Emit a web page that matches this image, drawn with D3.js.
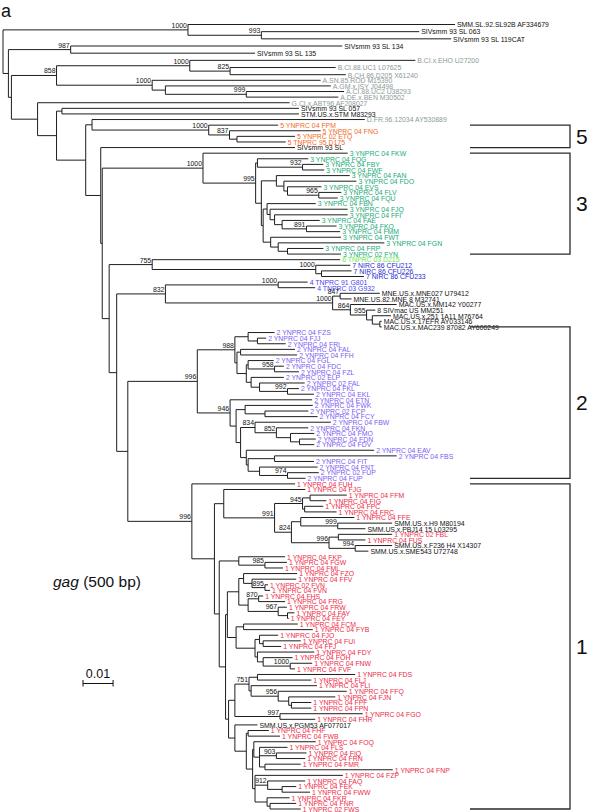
<!DOCTYPE html>
<html><head><meta charset="utf-8">
<script src="https://cdn.jsdelivr.net/npm/d3@7"></script>
<style>
body{margin:0;background:#fff}
svg{display:block}
text{font-family:"Liberation Sans",Arial,Helvetica,sans-serif}
</style></head>
<body><svg id="chart" width="589" height="812"></svg>
<script>
// ---------- DATA ----------
// [node id / leaf label, parent id, divergence from root (subst./site), bootstrap]
const treeRows = [
["root",null,0,null],
["n_smm","root",0.0615,1000],
["SMM.SL.92.SL92B AF334679","n_smm",0.1503],
["n993","n_smm",0.0859,993],
["SIVsmm 93 SL 063","n993",0.1384],
["SIVsmm 93 SL 119CAT","n993",0.1490],
["nB","root",0.0018],
["n987","nB",0.0225,987],
["SIVsmm 93 SL 134","n987",0.1128],
["SIVsmm 93 SL 135","n987",0.0838],
["nC","nB",0.0028],
["n858","nC",0.0178,858],
["n1000b","n858",0.0621,1000],
["B.CI.x.EHO U27200","n1000b",0.1371],
["n825","n1000b",0.0755,825],
["B.CI.88.UC1 L07625","n825",0.1106],
["B.CH.86.D205 X61240","n825",0.1140],
["n1000a","n858",0.0496,1000],
["A.SN.85.ROD M15390","n1000a",0.1056],
["n_a2","n1000a",0.0540],
["A.GM.x.ISY J04498","n_a2",0.1090],
["n999a","n_a2",0.0809,999],
["A.CI.88.UC2 U38293","n999a",0.1134],
["A.DE.x.BEN M30502","n999a",0.1115],
["nD","nC",0.0115],
["G.CI.x.ABT96 AF208027","nD",0.0953],
["nE","nD",0.0178],
["n_stm","nE",0.0196],
["SIVsmm 93 SL 057","n_stm",0.0984],
["STM.US.x.STM M83293","n_stm",0.0984],
["nF","nE",0.0275],
["n_dfr","nF",0.0296],
["D.FR.96.12034 AY530889","n_dfr",0.1203],
["n1000_5","n_dfr",0.0684,1000],
["5 YNPRC 04 FPM","n1000_5",0.0915],
["n837","n1000_5",0.0753,837],
["5 YNPRC 04 FNG","n837",0.1056],
["n5c","n837",0.0778],
["5 YNPRC 02 ETQ","n5c",0.0971],
["5 TNPRC 95 D175","n5c",0.0940],
["nP1","nF",0.0325],
["SIVsmm 93 SL","nP1",0.0971],
["nP2","nP1",0.0330],
["n1000_3","nP2",0.0665,1000],
["3 YNPRC 04 FKW","n1000_3",0.1146],
["n995","n1000_3",0.0840,995],
["n3a","n995",0.0846],
["3 YNPRC 04 FQG","n3a",0.1015],
["n932","n3a",0.0996,932],
["3 YNPRC 04 FBY","n932",0.1065],
["3 YNPRC 04 FWF","n932",0.1068],
["n3r","n995",0.0859],
["n3e","n3r",0.0909],
["3 YNPRC 04 FAN","n3e",0.1153],
["n3d","n3e",0.0934],
["3 YNPRC 04 FDO","n3d",0.1175],
["n3c","n3d",0.0946],
["3 YNPRC 04 EVS","n3c",0.1059],
["n965","n3c",0.1050,965],
["3 YNPRC 04 FLV","n965",0.1125],
["3 YNPRC 04 FQU","n965",0.1113],
["n3q","n3r",0.0865],
["n3g","n3q",0.0878],
["3 YNPRC 04 FBN","n3g",0.1040],
["n3h","n3g",0.0888],
["3 YNPRC 04 FJQ","n3h",0.1146],
["n3i","n3h",0.0903],
["3 YNPRC 04 FFI","n3i",0.1146],
["n3j","n3i",0.0928],
["3 YNPRC 04 FAE","n3j",0.1053],
["n891","n3j",0.1009,891],
["3 YNPRC 04 FKO","n891",0.1109],
["3 YNPRC 04 FMM","n891",0.1121],
["n3k","n3q",0.0890],
["3 YNPRC 04 FWT","n3k",0.1124],
["n3l","n3k",0.0915],
["3 YNPRC 04 FGN","n3l",0.1268],
["n3m","n3l",0.0946],
["3 YNPRC 04 FRP","n3m",0.1065],
["3 YNPRC 02 FYN","n3m",0.1124],
["nQ","nP2",0.0353],
["n755","nQ",0.0496,755],
["6 TNPRC 03 D215","n755",0.1121],
["n1000_7","n755",0.1040,1000],
["7 NIRC 86 CFU212","n1000_7",0.1155],
["n7b","n1000_7",0.1059],
["7 NIRC 86 CFU226","n7b",0.1159],
["7 NIRC 86 CFU233","n7b",0.1200],
["nX","nQ",0.0378],
["n832","nX",0.0540,832],
["n1000_4","n832",0.0915,1000],
["4 TNPRC 91 G801","n1000_4",0.1013],
["4 TNPRC 03 G932","n1000_4",0.1038],
["n1000_mac","n832",0.1096,1000],
["n847","n1000_mac",0.1121,847],
["MNE.US.x.MNE027 U79412","n847",0.1253],
["MNE.US.82.MNE 8 M32741","n847",0.1159],
["n864","n1000_mac",0.1155,864],
["MAC.US.x.MM142 Y00277","n864",0.1309],
["n955","n864",0.1209,955],
["8 SIVmac US MM251","n955",0.1238],
["nmac2","n955",0.1228],
["MAC.US.x.251 1A11 M76764","nmac2",0.1290],
["nmac3","nmac2",0.1253],
["MAC.US.x.17EFR AY033146","nmac3",0.1259],
["MAC.US.x.MAC239 87082 AY600249","nmac3",0.1259],
["nG21","nX",0.0415],
["n996_2","nG21",0.0646,996],
["n988","n996_2",0.0771,988],
["n2a","n988",0.0815],
["2 YNPRC 04 FZS","n2a",0.0903],
["n2b","n2a",0.0846],
["2 YNPRC 04 FJJ","n2b",0.0875],
["2 YNPRC 04 FRI","n2b",0.0940],
["n2c","n988",0.0778],
["n2e","n2c",0.0790],
["2 YNPRC 04 FAL","n2e",0.0971],
["2 YNPRC 04 FFH","n2e",0.0978],
["n2f","n2c",0.0809],
["n2g","n2f",0.0815],
["2 YNPRC 04 FGL","n2g",0.0900],
["n958","n2g",0.0903,958],
["2 YNPRC 04 FDC","n958",0.0934],
["2 YNPRC 04 FZL","n958",0.0984],
["n2h","n2f",0.0825],
["2 YNPRC 02 ELP","n2h",0.0934],
["n2i","n2h",0.0853],
["2 YNPRC 02 FAL","n2i",0.1003],
["n992","n2i",0.0946,992],
["2 YNPRC 04 FKL","n992",0.0984],
["2 YNPRC 04 EKL","n992",0.1034],
["n946","n996_2",0.0755,946],
["2 YNPRC 04 ETN","n946",0.1028],
["n2l","n946",0.0775],
["n2m","n2l",0.0805],
["2 YNPRC 04 FWK","n2m",0.1030],
["n2p","n2m",0.0871],
["2 YNPRC 02 FCP","n2p",0.1015],
["2 YNPRC 04 FCY","n2p",0.1046],
["n2n","n2l",0.0790],
["n834","n2n",0.0838,834],
["2 YNPRC 04 FBW","n834",0.1090],
["n852","n834",0.0909,852],
["2 YNPRC 04 FKN","n852",0.1015],
["n2j","n852",0.0956],
["2 YNPRC 04 FMO","n2j",0.1035],
["n2k","n2j",0.0986],
["2 YNPRC 04 FDN","n2k",0.1040],
["2 YNPRC 04 FDV","n2k",0.1035],
["n2r","n2n",0.0809],
["2 YNPRC 04 EAV","n2r",0.1234],
["n2s","n2r",0.0815],
["n2t","n2s",0.0903],
["2 YNPRC 04 FBS","n2t",0.1309],
["2 YNPRC 04 FIT","n2t",0.1034],
["n2u","n2s",0.0853],
["2 YNPRC 04 FNT","n2u",0.1046],
["n974","n2u",0.0946,974],
["2 YNPRC 02 FUP","n974",0.1050],
["2 YNPRC 04 FUP","n974",0.1006],
["n996_1","nG21",0.0628,996],
["1 YNPRC 04 FUH","n996_1",0.0971],
["n1a","n996_1",0.0703],
["n1b","n1a",0.0734],
["1 YNPRC 04 FJG","n1b",0.1005],
["n991","n1b",0.0903,991],
["n945","n991",0.0996,945],
["n1f","n945",0.1021],
["1 YNPRC 04 FFM","n1f",0.1143],
["1 YNPRC 04 FIG","n1f",0.1075],
["n1d","n945",0.1003],
["1 YNPRC 04 FPC","n1d",0.1065],
["1 YNPRC 04 FRC","n1d",0.1109],
["n824","n991",0.0959,824],
["n1g","n824",0.0990],
["1 YNPRC 04 FFE","n1g",0.1168],
["n999b","n1g",0.1113,999],
["SMM.US.x.H9 M80194","n999b",0.1294],
["SMM.US.x.PBJ14 15 L03295","n999b",0.1205],
["n996b","n824",0.1084,996],
["n1h","n996b",0.1115],
["1 YNPRC 02 FBL","n1h",0.1294],
["1 YNPRC 04 FUS","n1h",0.1205],
["n994","n996b",0.1171,994],
["SMM.US.x.F236 H4 X14307","n994",0.1294],
["SMM.US.x.SME543 U72748","n994",0.1215],
["n1c","n1a",0.0719],
["n1i","n1c",0.0784],
["1 YNPRC 04 FKP","n1i",0.0938],
["n985","n1i",0.0871,985],
["1 YNPRC 04 FGW","n985",0.0944],
["1 YNPRC 04 FML","n985",0.0931],
["nd1","n1c",0.0740],
["nd2","nd1",0.0746],
["n1k","nd2",0.0784],
["n1l","n1k",0.0800],
["1 YNPRC 04 FZO","n1l",0.0978],
["n1m","n1l",0.0828],
["1 YNPRC 04 FFV","n1m",0.0975],
["n895","n1m",0.0871,895],
["1 YNPRC 02 FVN","n895",0.0881],
["1 YNPRC 04 FVN","n895",0.0888],
["n1o","n1k",0.0815],
["n870","n1o",0.0850,870],
["1 YNPRC 04 FHS","n870",0.0865],
["1 YNPRC 04 FRG","n870",0.0938],
["n967","n1o",0.0915,967],
["1 YNPRC 04 FRW","n967",0.0944],
["n1j","n967",0.0946],
["1 YNPRC 04 FAY","n1j",0.0969],
["1 YNPRC 04 FEY","n1j",0.0950],
["n1q","nd2",0.0775],
["n1x","n1q",0.0800],
["1 YNPRC 04 FCM","n1x",0.0980],
["1 YNPRC 04 FYB","n1x",0.1030],
["n1y","n1q",0.0838],
["na1","n1y",0.0853],
["1 YNPRC 04 FJO","na1",0.0915],
["na2","na1",0.0865],
["1 YNPRC 04 FUI","na2",0.0990],
["1 YNPRC 04 FFJ","na2",0.0925],
["na3","n1y",0.0846],
["1 YNPRC 04 FDY","na3",0.1035],
["na4","na3",0.0865],
["1 YNPRC 04 FOH","na4",0.0963],
["n1000_1","na4",0.0955,1000],
["1 YNPRC 04 FNW","n1000_1",0.1028],
["1 YNPRC 04 FVF","n1000_1",0.0971],
["nd3","nd1",0.0750],
["nd4","nd3",0.0771],
["n751","nd4",0.0818,751],
["nb1","n751",0.0846],
["1 YNPRC 04 FDS","nb1",0.1171],
["1 YNPRC 04 FLJ","nb1",0.1025],
["nb2","n751",0.0825],
["1 YNPRC 04 FLI","nb2",0.1044],
["n956","nb2",0.0915,956],
["1 YNPRC 04 FFQ","n956",0.1143],
["nb3","n956",0.0950],
["1 YNPRC 04 FJN","nb3",0.1105],
["nb4","nb3",0.0959],
["1 YNPRC 04 FPF","nb4",0.1025],
["1 YNPRC 04 FPN","nb4",0.1025],
["n997","nd4",0.0921,997],
["1 YNPRC 04 FGO","n997",0.1196],
["1 YNPRC 04 FHR","n997",0.1038],
["nc1","nd3",0.0771],
["SMM.US.x.PGM53 AF077017","nc1",0.0846],
["nc2","nc1",0.0809],
["nc3","nc2",0.0815],
["1 YNPRC 04 FHF","nc3",0.0884],
["1 YNPRC 04 FWB","nc3",0.0921],
["nc4","nc2",0.0830],
["nc5","nc4",0.0834],
["1 YNPRC 04 FOQ","nc5",0.1040],
["nc6","nc5",0.0853],
["1 YNPRC 04 FLS","nc6",0.0946],
["n903","nc6",0.0909,903],
["1 YNPRC 04 FIQ","n903",0.1009],
["1 YNPRC 04 FRN","n903",0.1005],
["nc7","nc6",0.0871],
["1 YNPRC 04 FMR","nc7",0.0990],
["1 YNPRC 04 FNP","nc7",0.1296],
["nc8","nc4",0.0838],
["1 YNPRC 04 FZP","nc8",0.1130],
["n912","nc8",0.0880,912],
["1 YNPRC 04 FAQ","n912",0.1005],
["n1s","n912",0.0928],
["1 YNPRC 04 FEK","n1s",0.0975],
["1 YNPRC 04 FWW","n1s",0.1021],
["nc9","nc8",0.0878],
["1 YNPRC 04 FKR","nc9",0.0953],
["n1t","nc9",0.0888],
["1 YNPRC 04 FNR","n1t",0.0975],
["1 YNPRC 02 FWS","n1t",0.0990]
];

// group brackets: [label, first leaf, last leaf]
const bracketLabels = ["5","3","2","1"];
const bracketFrom = ["5 YNPRC 04 FPM","3 YNPRC 04 FKW","MAC.US.x.MAC239 87082 AY600249","1 YNPRC 04 FUH"];
const bracketTo   = ["SIVsmm 93 SL","3 YNPRC 02 FYN","2 YNPRC 04 FUP","1 YNPRC 02 FWS"];

// label colour groups
const groupKeys   = ["1","2","3","4","5","6","7","HIV2","other"];
const groupColors = ["#ee2a48","#7d5cf0","#22aa78","#4a44f2","#f26a28","#6ae844","#2a2ad0","#8c9a9a","#111111"];

const scaleBarValue = 0.01;
const scaleBarLabel = "0.01";
const panelLabel = "a";
const geneLabel = ["gag", " (500 bp)"];

// ---------- LAYOUT ----------
const svg = d3.select("#chart");
const root = d3.stratify().id(d => d[0]).parentId(d => d[1])(treeRows);
const leaves = root.leaves();

const x = d3.scaleLinear().domain([0, 0.19]).range([3, 3 + 0.19 * 3007.5]);
const y = d3.scaleLinear().domain([0, 7, leaves.length - 1]).range([24.5, 74.7, 809]);

leaves.forEach((l, i) => { l.ly = y(i); });
root.eachAfter(n => {
  n.px = x(n.data[2]);
  if (n.children) n.py = (n.children[0].py + n.children[n.children.length - 1].py) / 2;
  else n.py = n.ly;
});

function groupOf(name) {
  const m = name.match(/^([1-7]) /);
  if (m) return m[1];
  if (/^[ABDG]\.[A-Z]/.test(name)) return "HIV2";
  return "other";
}
const colorScale = d3.scaleOrdinal().domain(groupKeys).range(groupColors);

const g = svg.append("g");
const lineColor = "#1e1e1e";

// horizontal branches
g.selectAll("line.h").data(root.descendants().filter(d => d.parent))
  .join("line").attr("class","h")
  .attr("x1", d => d.parent.px).attr("x2", d => d.px)
  .attr("y1", d => d.py).attr("y2", d => d.py)
  .attr("stroke", lineColor).attr("stroke-width", 1);

// vertical connectors
g.selectAll("line.v").data(root.descendants().filter(d => d.children))
  .join("line").attr("class","v")
  .attr("x1", d => d.px).attr("x2", d => d.px)
  .attr("y1", d => d.children[0].py).attr("y2", d => d.children[d.children.length-1].py)
  .attr("stroke", lineColor).attr("stroke-width", 1);

// leaf labels
g.selectAll("text.leaf").data(leaves).join("text").attr("class","leaf")
  .attr("x", d => d.px + 2).attr("y", d => d.py + 2.8)
  .attr("font-size", 6.9)
  .attr("fill", d => colorScale(groupOf(d.id)))
  .text(d => d.id);

// bootstrap values
g.selectAll("text.boot").data(root.descendants().filter(d => d.data[3] != null))
  .join("text").attr("class","boot")
  .attr("x", d => d.px - 1).attr("y", d => d.py - 2)
  .attr("text-anchor","end").attr("font-size", 6.9).attr("fill","#111")
  .text(d => d.data[3]);

// brackets
const leafById = new Map(leaves.map(l => [l.id, l]));
const bx0 = 470, bx1 = 570;
bracketLabels.forEach((lab, i) => {
  const y0 = leafById.get(bracketFrom[i]).py, y1 = leafById.get(bracketTo[i]).py;
  svg.append("path")
    .attr("d", `M${bx0},${y0}H${bx1}V${y1}H${bx0}`)
    .attr("fill","none").attr("stroke","#2a2a2a").attr("stroke-width",1.3);
  svg.append("text").attr("x", 576).attr("y", (y0 + y1) / 2 + 7.5)
    .attr("font-size", 21).attr("fill","#111").text(lab);
});

// panel letter
svg.append("text").attr("x", 1).attr("y", 16.5).attr("font-size", 18).attr("fill","#111").text(panelLabel);

// gene label
const gt = svg.append("text").attr("x", 53).attr("y", 587).attr("font-size", 15.5).attr("fill","#111");
gt.append("tspan").attr("font-style","italic").text(geneLabel[0]);
gt.append("tspan").text(geneLabel[1]);

// scale bar
const sbx = 83, sby = 683.5;
const sbLen = x(scaleBarValue) - x(0);
const sb = svg.append("g").attr("stroke","#111").attr("stroke-width",1);
sb.append("line").attr("x1", sbx).attr("x2", sbx + sbLen).attr("y1", sby).attr("y2", sby);
sb.append("line").attr("x1", sbx).attr("x2", sbx).attr("y1", sby - 3.5).attr("y2", sby + 3);
sb.append("line").attr("x1", sbx + sbLen).attr("x2", sbx + sbLen).attr("y1", sby - 3.5).attr("y2", sby + 3);
svg.append("text").attr("x", sbx + sbLen / 2).attr("y", sby - 5.5).attr("text-anchor","middle")
  .attr("font-size", 12.5).attr("fill","#111").text(scaleBarLabel);
</script>
</body></html>
